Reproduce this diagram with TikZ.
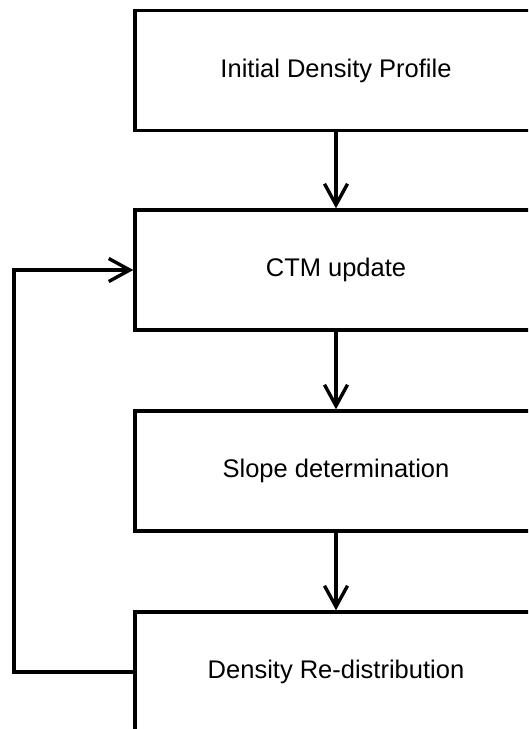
\documentclass[tikz,border=0pt]{standalone}
\usepackage{fontspec}
\setmainfont{Liberation Sans}
\usetikzlibrary{arrows.meta}
\begin{document}
\begin{tikzpicture}[x=1pt,y=-1pt,
  stagebox/.style={draw=black, line width=3.4pt, fill=white, rectangle,
    minimum width=402pt, minimum height=120pt, inner sep=0pt,
    font=\fontsize{25.5}{29}\selectfont},
  flow/.style={draw=black, line width=3.4pt,
    -{Straight Barb[length=21pt,width=23pt]}}]
  \useasboundingbox (0,0) rectangle (528,729);
  \clip (0,0) rectangle (528,729);
  \node[stagebox] (init)  at (336,70.5) {\raisebox{-1.5pt}{Initial Density Profile}};
  \node[stagebox] (ctm)   at (336,270)  {\raisebox{-1.5pt}{CTM update}};
  \node[stagebox] (slope) at (336,471)  {\raisebox{-1.5pt}{Slope determination}};
  \node[stagebox] (redis) at (336,672)  {\raisebox{-1.5pt}{Density Re-distribution}};
  \draw[flow] (init) -- (ctm);
  \draw[flow] (ctm) -- (slope);
  \draw[flow] (slope) -- (redis);
  \coordinate (lb) at (14,672);
  \coordinate (lt) at (14,270);
  \draw[flow] (redis.west) -- (lb) -- (lt) -- (ctm.west);
\end{tikzpicture}
\end{document}
